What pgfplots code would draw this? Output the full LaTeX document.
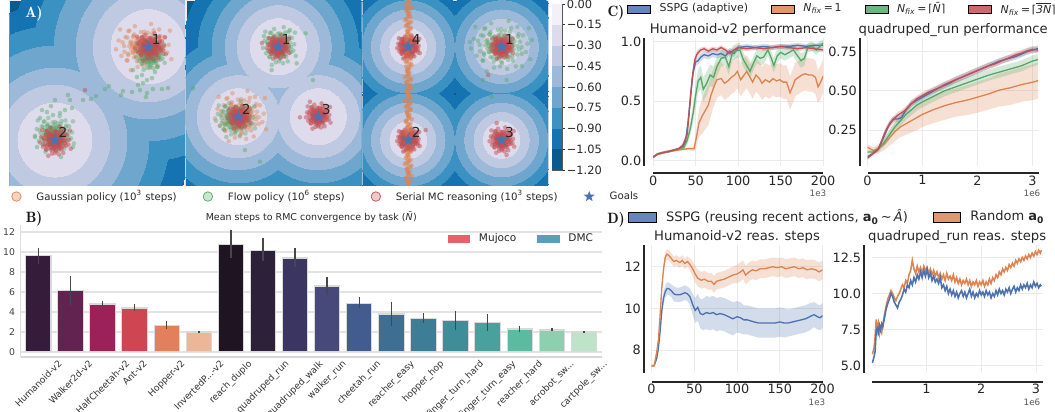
\documentclass[border=0pt]{standalone}
\usepackage{fontspec}
\setmainfont{DejaVu Sans}
\usepackage{graphicx}
\usepackage{pgfplots}
\pgfplotsset{compat=1.18}
\usepackage{pgfplotstable}

\definecolor{C1}{HTML}{F4F0F7}
\definecolor{C2}{HTML}{DDDBEC}
\definecolor{C3}{HTML}{C0C9E2}
\definecolor{C4}{HTML}{9DB9D9}
\definecolor{C5}{HTML}{6EA6CE}
\definecolor{C6}{HTML}{3B91C1}
\definecolor{C7}{HTML}{1473B0}
\definecolor{C8}{HTML}{0B5A8E}
\definecolor{oS}{HTML}{DD8452}
\definecolor{gS}{HTML}{55A868}
\definecolor{rS}{HTML}{C44E52}
\definecolor{bS}{HTML}{4C72B0}
\definecolor{starB}{HTML}{4C72B0}
\definecolor{mujC}{HTML}{E6616B}
\definecolor{dmcC}{HTML}{5B9EBB}
\definecolor{b0}{HTML}{351C3A}
\definecolor{b1}{HTML}{632350}
\definecolor{b2}{HTML}{9B2158}
\definecolor{b3}{HTML}{CD4652}
\definecolor{b4}{HTML}{E2805E}
\definecolor{b5}{HTML}{ECB699}
\definecolor{b6}{HTML}{1F1421}
\definecolor{b7}{HTML}{2D2139}
\definecolor{b8}{HTML}{3B3562}
\definecolor{b9}{HTML}{48497B}
\definecolor{b10}{HTML}{435C8F}
\definecolor{b11}{HTML}{3E6E92}
\definecolor{b12}{HTML}{3D7D95}
\definecolor{b13}{HTML}{3E8D98}
\definecolor{b14}{HTML}{48A19C}
\definecolor{b15}{HTML}{5BBBA1}
\definecolor{b16}{HTML}{8DCFAE}
\definecolor{b17}{HTML}{BDE3C8}

\pgfdeclareplotmark{fstar}{%
 \pgfpathmoveto{\pgfpointpolar{90}{\pgfplotmarksize}}%
 \pgfpathlineto{\pgfpointpolar{126}{0.4\pgfplotmarksize}}%
 \pgfpathlineto{\pgfpointpolar{162}{\pgfplotmarksize}}%
 \pgfpathlineto{\pgfpointpolar{198}{0.4\pgfplotmarksize}}%
 \pgfpathlineto{\pgfpointpolar{234}{\pgfplotmarksize}}%
 \pgfpathlineto{\pgfpointpolar{270}{0.4\pgfplotmarksize}}%
 \pgfpathlineto{\pgfpointpolar{306}{\pgfplotmarksize}}%
 \pgfpathlineto{\pgfpointpolar{342}{0.4\pgfplotmarksize}}%
 \pgfpathlineto{\pgfpointpolar{18}{\pgfplotmarksize}}%
 \pgfpathlineto{\pgfpointpolar{54}{0.4\pgfplotmarksize}}%
 \pgfpathclose\pgfusepathqfill}

\pgfplotsset{/pgf/number format/assume math mode=true}
\pgfplotsset{
 pA/.style={scale only axis, anchor=south west, y dir=reverse, xtick=\empty, ytick=\empty,
   clip mode=individual, clip marker paths=true,
   axis line style={draw=white!86!gray, line width=0.7pt}, axis background/.style={fill=C8},
   ymin=0, ymax=185.7, height=3.714cm},
 lax/.style={scale only axis, anchor=south west, axis x line*=bottom, axis y line*=left,
   major tick length=0pt, xmajorgrids, ymajorgrids, grid style={draw=black!8, line width=0.5pt},
   tick label style={font=\fontsize{7.3}{8}\selectfont, text=black!85},
   xticklabel style={inner sep=1.2pt}, yticklabel style={inner sep=1.5pt},
   title style={font=\fontsize{7.5}{8}\selectfont, text=black!85, at={(0.5,1)}, anchor=base, yshift=-3.44pt},
   x axis line style={draw=black!85, line width=1.1pt},
   y axis line style={draw=black!85, line width=0.8pt}},
 hax/.style={scale only axis, anchor=south west, hide axis},
 cLg/.style={at={(13.066cm,4.92cm)}, width=3.4cm, height=2.56cm, xmin=0, xmax=200, ymin=-0.045, ymax=1.03},
 cRg/.style={at={(17.354cm,4.92cm)}, width=3.426cm, height=2.56cm, xmin=0, xmax=3.115, ymin=0.02, ymax=0.837},
 dLg/.style={at={(13.034cm,0.78cm)}, width=3.42cm, height=2.56cm, xmin=0, xmax=200, ymin=6.9, ymax=13.04},
 dRg/.style={at={(17.44cm,0.78cm)}, width=3.414cm, height=2.56cm, xmin=0, xmax=3.12, ymin=4.49, ymax=13.36},
 bb/.style={ybar, bar width=0.79, bar shift=0pt, fill=#1, draw=white!85!black, line width=0.6pt, forget plot,
   error bars/.cd, y dir=both, y explicit, error mark=none, error bar style={draw=black!72, line width=0.85pt}},
 sc/.style={only marks, mark=*, mark size=1.3pt, color=#1, forget plot},
}

\newcommand{\ring}[3]{\addplot[only marks, mark=*, mark size=#1, color=#2, forget plot, mark options={line width=0pt}] table[x=x,y=y]{#3};}
% a cloud of scatter points: typed offsets (table \cl) scaled and centred, three layers
\newcommand{\blob}[6]{%
\addplot[sc=#1, mark options={fill opacity=#2, draw opacity=0, line width=0pt}] table[x expr=\thisrow{dx}*#5+#3, y expr=\thisrow{dy}*#6+#4]{\cl};
\addplot[sc=#1, mark options={fill opacity=#2, draw opacity=0, line width=0pt}] table[x expr=\thisrow{dy}*0.72*#5+#3, y expr=-\thisrow{dx}*0.72*#6+#4]{\cl};
\addplot[sc=#1, mark options={fill opacity=#2, draw opacity=0, line width=0pt}] table[x expr=-\thisrow{dy}*0.45*#5+#3, y expr=\thisrow{dx}*0.45*#6+#4]{\cl};}
\newcommand{\pts}[3]{\addplot[sc=#1, mark options={fill opacity=#2, draw opacity=0, line width=0pt}] table[x=x,y=y]{#3};}
\newcommand{\stars}[1]{\addplot[only marks, mark=fstar, mark size=3.9pt, color=starB, forget plot, point meta=explicit symbolic, nodes near coords, every node near coord/.style={anchor=center, xshift=0.16cm, yshift=0.15cm, font=\fontsize{7.8}{8}\selectfont, text=black!85}] table[x=x, y=y, meta=lab]{#1};}
\newcommand{\bandax}[3]{%
\begin{axis}[hax, #1, stack plots=y]
\addplot[draw=none, forget plot] table[x=x, y expr=\thisrow{y}-\thisrow{w}]{#2};
\addplot[draw=none, fill=#3, fill opacity=0.25, forget plot] table[x=x, y expr=2*\thisrow{w}]{#2} \closedcycle;
\end{axis}}
\newcommand{\lin}[3]{\addplot[#2, line width=#3, forget plot] table[x=x, y=y]{#1};}

% ---------------- panel A data ----------------
\pgfplotstableread{
x y lab
148.3 46.7 1
55 140 2
}\gA
\pgfplotstableread{
x y lab
278.3 46.7 1
238.3 116.7 2
318.3 116.7 3
}\gB
\pgfplotstableread{
x y lab
501.7 46.7 1
408.3 140 2
501.7 140 3
408.3 46.7 4
}\gC
\pgfplotstableread{
dx dy
0 0
0.3 0.1
-0.25 0.2
0.1 -0.35
-0.4 -0.15
0.5 -0.2
0.2 0.45
-0.1 0.55
-0.55 0.3
0.6 0.35
-0.35 -0.5
0.35 -0.6
0.05 -0.7
-0.7 -0.05
0.75 0.05
-0.15 -0.2
0.15 0.2
0.45 0.6
-0.6 0.6
-0.8 0.4
0.8 -0.45
-0.5 -0.75
0.6 -0.8
0.0 0.85
-0.2 0.9
0.9 0.25
-0.9 -0.3
0.25 0.95
0.95 -0.1
-0.3 -0.95
0.1 0.05
-0.05 0.3
0.4 -0.05
-0.3 0.0
0.2 -0.15
-0.2 -0.4
0.05 0.65
0.65 -0.5
-0.65 -0.45
0.55 0.85
-1.0 0.1
1.05 0.55
-0.45 1.05
0.3 -1.05
-0.85 -0.8
1.0 -0.75
}\cl
\pgfplotstableread{
x y
168 88
162 89
153 89
147 93
146 97
140 90
138 85
132 92
123 91
121 95
109 86
105 89
96 96
91 99
83 100
72 108
70 100
68 95
55 100
51 106
42 110
47 112
65 110
60 113
35 137
40 118
53 115
147 80
152 78
142 75
155 72
137 77
143 83
157 67
133 70
61 157
73 147
37 147
}\trA
\pgfplotstableread{
x y
85 90
}\orA
\pgfplotstableread{
x y
305.7 33.3
313 80
271.7 70
296.7 63.3
193.3 88.3
245 150
260 161.7
264 36
290 30
}\ogB
\pgfplotstableread{
x y
300 117.3
310 101.7
262 43
}\orB
\pgfplotstableread{
x y
491.7 96.7
483 80
506.7 80
470 42
532 40
522 66
}\ogC
\pgfplotstableread{
x y
488.3 75
425.7 130
506.7 155
496.7 123
}\orC
\pgfplotstableread{
dx y
1 2
-2 5
3 8
-1 11
0 14
2 17
-3 20
1 23
-2 26
2 29
0 32
-1 35
3 38
-2 41
1 44
-3 47
2 50
0 53
-1 56
2 59
-2 62
3 65
1 68
-1 71
0 74
-3 77
2 80
-2 83
1 86
3 89
-1 92
0 95
2 98
-3 101
1 104
-2 107
2 110
-1 113
0 116
3 119
-2 122
1 125
-1 128
2 131
-3 134
0 137
1 140
-2 143
3 146
-1 149
2 152
0 155
-2 158
1 161
-3 164
2 167
-1 170
0 173
3 176
-2 179
1 182
0 185
}\bd

% ---------------- panel C data ----------------
\pgfplotstableread{
x y w
0 0.030 0.01
5 0.055 0.01
10 0.065 0.01
20 0.080 0.01
30 0.100 0.01
35 0.120 0.02
38 0.160 0.03
41 0.320 0.06
44 0.550 0.06
47 0.740 0.05
50 0.830 0.03
53 0.840 0.03
56 0.870 0.03
60 0.890 0.03
65 0.880 0.03
70 0.900 0.03
75 0.890 0.03
80 0.900 0.03
85 0.880 0.03
90 0.920 0.03
95 0.900 0.03
100 0.950 0.02
110 0.960 0.02
120 0.950 0.02
130 0.960 0.02
140 0.950 0.02
150 0.960 0.02
160 0.960 0.02
170 0.970 0.02
180 0.960 0.02
190 0.970 0.02
200 0.970 0.02
}\cLb
\pgfplotstableread{
x y w
0 0.03 0.01
5 0.055 0.01
10 0.065 0.01
20 0.08 0.01
30 0.10 0.01
35 0.13 0.02
40 0.22 0.04
43 0.45 0.05
46 0.70 0.05
49 0.85 0.03
52 0.90 0.03
56 0.93 0.02
60 0.94 0.02
65 0.92 0.02
70 0.94 0.02
75 0.93 0.02
80 0.95 0.02
85 0.93 0.02
90 0.90 0.03
95 0.93 0.02
100 0.95 0.02
110 0.94 0.02
120 0.95 0.02
130 0.94 0.02
140 0.95 0.02
150 0.96 0.02
160 0.95 0.02
170 0.94 0.02
180 0.95 0.02
190 0.94 0.02
200 0.93 0.02
}\cLr
\pgfplotstableread{
x y w
0 0.03 0.01
5 0.055 0.01
10 0.065 0.01
20 0.08 0.01
30 0.10 0.01
36 0.11 0.02
40 0.17 0.04
44 0.28 0.06
47 0.40 0.08
50 0.55 0.1
53 0.67 0.1
56 0.70 0.1
59 0.60 0.1
63 0.65 0.1
67 0.72 0.09
71 0.70 0.09
75 0.79 0.08
80 0.86 0.07
85 0.87 0.07
89 0.79 0.07
93 0.90 0.06
97 0.92 0.06
102 0.93 0.06
106 0.85 0.06
110 0.80 0.06
114 0.75 0.06
118 0.82 0.06
122 0.88 0.06
126 0.86 0.06
130 0.87 0.06
135 0.93 0.05
139 0.86 0.06
142 0.80 0.06
146 0.88 0.06
150 0.91 0.05
155 0.89 0.05
160 0.91 0.05
165 0.93 0.05
170 0.88 0.06
174 0.84 0.06
178 0.86 0.06
182 0.95 0.04
187 0.96 0.04
192 0.93 0.04
196 0.96 0.04
200 0.99 0.03
}\cLgr
\pgfplotstableread{
x y w
0 0.03 0.01
5 0.055 0.01
10 0.065 0.01
20 0.08 0.01
30 0.09 0.01
40 0.10 0.01
48 0.10 0.02
51 0.20 0.08
54 0.32 0.12
58 0.38 0.15
62 0.43 0.16
65 0.47 0.17
68 0.55 0.17
72 0.63 0.16
75 0.68 0.15
80 0.69 0.14
84 0.65 0.14
88 0.67 0.14
92 0.70 0.14
96 0.72 0.14
99 0.75 0.14
103 0.68 0.14
107 0.72 0.14
110 0.75 0.14
114 0.70 0.14
117 0.66 0.14
121 0.72 0.14
125 0.69 0.14
128 0.65 0.14
132 0.68 0.14
137 0.66 0.14
141 0.69 0.14
145 0.67 0.14
149 0.68 0.14
153 0.66 0.14
157 0.66 0.14
161 0.57 0.14
164 0.62 0.14
167 0.68 0.14
171 0.70 0.14
175 0.72 0.14
179 0.73 0.14
183 0.72 0.14
187 0.72 0.14
191 0.70 0.14
194 0.62 0.14
197 0.66 0.14
200 0.71 0.14
}\cLo
\pgfplotstableread{
x y w
0.0 0.08 0.01
0.1 0.10 0.01
0.2 0.13 0.015
0.3 0.21 0.02
0.4 0.29 0.02
0.47 0.32 0.02
0.55 0.32 0.02
0.62 0.33 0.02
0.7 0.38 0.02
0.8 0.42 0.02
0.9 0.44 0.02
1.0 0.46 0.02
1.1 0.48 0.02
1.2 0.50 0.02
1.3 0.52 0.02
1.4 0.535 0.02
1.5 0.55 0.02
1.6 0.57 0.02
1.7 0.585 0.02
1.8 0.60 0.02
1.9 0.615 0.02
2.0 0.63 0.02
2.1 0.645 0.02
2.2 0.66 0.02
2.3 0.675 0.02
2.4 0.69 0.02
2.5 0.70 0.02
2.6 0.71 0.02
2.7 0.72 0.02
2.8 0.735 0.02
2.9 0.75 0.02
3.0 0.76 0.02
3.1 0.77 0.02
}\cRb
\pgfplotstableread{
x y w
0.0 0.07 0.01
0.1 0.10 0.01
0.2 0.13 0.015
0.3 0.22 0.02
0.35 0.26 0.02
0.45 0.31 0.02
0.55 0.345 0.02
0.62 0.36 0.02
0.7 0.38 0.02
0.8 0.42 0.02
0.9 0.45 0.02
1.0 0.47 0.02
1.1 0.49 0.02
1.2 0.505 0.02
1.3 0.52 0.02
1.4 0.54 0.02
1.5 0.555 0.02
1.6 0.57 0.02
1.7 0.585 0.02
1.8 0.60 0.02
1.9 0.615 0.02
2.0 0.63 0.02
2.1 0.645 0.02
2.2 0.66 0.02
2.3 0.67 0.02
2.4 0.685 0.02
2.5 0.70 0.02
2.6 0.715 0.02
2.7 0.73 0.02
2.8 0.74 0.02
2.9 0.755 0.02
3.0 0.765 0.02
3.1 0.76 0.02
}\cRr
\pgfplotstableread{
x y w
0.0 0.11 0.01
0.1 0.11 0.01
0.2 0.13 0.02
0.3 0.17 0.025
0.4 0.22 0.03
0.5 0.27 0.03
0.6 0.31 0.035
0.7 0.35 0.035
0.8 0.38 0.035
0.9 0.41 0.035
1.0 0.43 0.035
1.2 0.465 0.035
1.4 0.50 0.035
1.6 0.525 0.035
1.8 0.55 0.035
2.0 0.575 0.035
2.2 0.60 0.035
2.4 0.62 0.035
2.6 0.64 0.035
2.8 0.66 0.035
3.0 0.69 0.035
3.1 0.70 0.035
}\cRgr
\pgfplotstableread{
x y w
0.0 0.14 0.02
0.05 0.13 0.02
0.1 0.12 0.02
0.2 0.13 0.03
0.3 0.16 0.04
0.4 0.20 0.05
0.5 0.24 0.06
0.6 0.27 0.065
0.7 0.29 0.07
0.8 0.31 0.075
0.9 0.33 0.08
1.0 0.35 0.08
1.2 0.38 0.085
1.4 0.405 0.09
1.6 0.425 0.09
1.8 0.44 0.095
2.0 0.46 0.1
2.2 0.48 0.1
2.4 0.505 0.105
2.6 0.52 0.11
2.8 0.54 0.11
3.0 0.555 0.115
3.1 0.565 0.115
}\cRo

% ---------------- panel D data ----------------
\pgfplotstableread{
x y w
0 7.25 0.05
3 7.25 0.05
6 7.9 0.1
8 8.5 0.15
10 9.7 0.2
12 11.0 0.25
14 11.9 0.25
16 12.45 0.25
18 12.6 0.25
20 12.55 0.25
23 12.4 0.25
26 12.25 0.25
29 12.3 0.25
33 12.2 0.25
36 12.3 0.25
39 12.15 0.25
42 12.25 0.25
45 12.1 0.3
48 11.9 0.35
51 11.65 0.4
54 11.45 0.4
58 11.35 0.4
62 11.4 0.4
66 11.3 0.4
70 11.3 0.4
73 11.15 0.4
76 11.3 0.4
80 11.35 0.4
85 11.4 0.4
90 11.5 0.4
95 11.6 0.4
100 11.65 0.45
104 11.75 0.45
107 11.85 0.45
110 11.6 0.45
114 11.75 0.45
118 11.85 0.45
122 11.8 0.45
127 11.9 0.45
132 11.9 0.45
137 11.95 0.45
142 12.0 0.45
147 11.95 0.45
152 12.0 0.45
157 11.9 0.45
162 11.95 0.45
167 12.0 0.45
172 11.9 0.45
177 11.95 0.45
182 11.85 0.45
187 11.9 0.45
192 11.85 0.45
196 11.75 0.45
200 11.85 0.45
}\dLo
\pgfplotstableread{
x y w
0 7.25 0.05
3 7.25 0.05
6 7.6 0.1
8 8.1 0.15
10 8.9 0.2
12 9.9 0.25
14 10.5 0.3
16 10.8 0.3
18 10.95 0.3
20 10.95 0.3
23 10.85 0.3
26 10.7 0.35
29 10.65 0.35
33 10.65 0.35
36 10.7 0.35
39 10.75 0.35
42 10.7 0.35
45 10.55 0.4
48 10.2 0.5
51 9.9 0.6
54 10.05 0.65
57 9.75 0.7
60 9.7 0.75
64 9.8 0.8
68 9.75 0.8
72 9.8 0.8
76 9.7 0.8
80 9.75 0.8
85 9.7 0.8
90 9.6 0.8
95 9.5 0.8
100 9.6 0.75
104 9.55 0.75
108 9.45 0.7
112 9.45 0.7
116 9.4 0.7
120 9.35 0.7
125 9.3 0.7
130 9.3 0.7
135 9.3 0.7
140 9.3 0.7
145 9.3 0.7
150 9.35 0.7
155 9.3 0.7
160 9.3 0.65
165 9.35 0.65
170 9.4 0.65
175 9.45 0.65
180 9.5 0.65
185 9.6 0.65
190 9.7 0.6
194 9.6 0.6
197 9.55 0.6
200 9.65 0.6
}\dLb
\pgfplotstableread{
x y
0.01 5.2
0.04 5.6
0.06 6.0
0.08 7.4
0.10 7.6
0.12 7.3
0.14 7.8
0.16 7.5
0.18 7.9
0.20 7.7
0.23 8.3
0.26 8.9
0.29 9.3
0.32 9.6
0.35 10.0
0.38 9.8
0.41 9.4
0.44 9.2
0.47 9.0
0.50 9.4
0.53 9.6
0.56 9.9
0.59 10.3
0.62 10.1
0.65 10.6
0.68 10.4
0.71 10.9
0.74 10.6
0.77 11.1
0.80 10.8
0.83 11.3
0.86 11.0
0.89 11.5
0.92 11.1
0.95 11.6
0.98 11.2
1.01 11.7
1.04 11.1
1.07 11.4
1.10 10.9
1.13 11.2
1.16 10.8
1.19 11.0
1.22 10.7
1.25 11.1
1.28 10.4
1.31 10.6
1.34 10.2
1.37 10.5
1.40 10.0
1.43 10.3
1.46 9.9
1.49 10.2
1.52 9.8
1.55 10.1
1.58 9.7
1.61 10.0
1.64 10.2
1.67 9.8
1.70 10.1
1.73 9.7
1.76 10.0
1.79 10.3
1.82 9.8
1.85 10.1
1.88 9.7
1.91 10.0
1.94 9.8
1.97 10.2
2.00 9.9
2.03 10.1
2.06 9.8
2.09 10.2
2.12 9.9
2.15 10.1
2.18 9.7
2.21 10.0
2.24 9.8
2.27 10.2
2.30 9.9
2.33 10.3
2.36 10.0
2.39 10.2
2.42 9.9
2.45 10.3
2.48 10.1
2.51 10.4
2.54 10.0
2.57 10.3
2.60 10.5
2.63 10.1
2.66 10.4
2.69 10.2
2.72 10.6
2.75 10.3
2.78 10.6
2.81 10.4
2.84 10.7
2.87 10.3
2.90 10.6
2.93 10.4
2.96 10.8
2.99 10.5
3.02 10.7
3.05 10.4
3.08 10.6
3.10 10.5
}\dRb
\pgfplotstableread{
x y
0.01 5.8
0.04 6.2
0.06 7.0
0.08 8.2
0.10 7.4
0.12 7.9
0.14 7.2
0.16 7.6
0.18 7.3
0.20 7.8
0.23 8.5
0.26 9.1
0.29 9.6
0.32 9.9
0.35 10.2
0.38 10.0
0.41 9.7
0.44 9.5
0.47 9.8
0.50 10.0
0.53 10.3
0.56 10.6
0.59 10.4
0.62 10.9
0.65 10.7
0.68 11.3
0.71 11.6
0.74 12.3
0.77 11.7
0.80 11.4
0.83 11.9
0.86 11.5
0.89 11.8
0.92 11.4
0.95 11.9
0.98 11.6
1.01 11.8
1.04 11.4
1.07 11.7
1.10 11.3
1.13 11.6
1.16 11.2
1.19 11.5
1.22 11.1
1.25 11.4
1.28 11.0
1.31 11.3
1.34 10.9
1.37 11.4
1.40 11.0
1.43 11.2
1.46 10.9
1.49 11.3
1.52 10.8
1.55 11.1
1.58 10.7
1.61 11.0
1.64 10.6
1.67 10.9
1.70 10.7
1.73 11.0
1.76 10.6
1.79 10.9
1.82 10.5
1.85 10.8
1.88 10.6
1.91 10.9
1.94 10.5
1.97 10.8
2.00 10.6
2.03 10.9
2.06 10.5
2.09 10.8
2.12 10.6
2.15 11.0
2.18 10.7
2.21 11.1
2.24 10.9
2.27 11.3
2.30 11.1
2.33 11.5
2.36 11.3
2.39 11.7
2.42 11.5
2.45 11.8
2.48 11.6
2.51 12.0
2.54 11.8
2.57 12.1
2.60 11.9
2.63 12.3
2.66 12.1
2.69 12.4
2.72 12.2
2.75 12.5
2.78 12.3
2.81 12.6
2.84 12.4
2.87 12.7
2.90 12.5
2.93 12.8
2.96 12.6
2.99 12.9
3.02 12.7
3.05 13.0
3.08 12.8
3.10 13.0
}\dRo

\begin{document}
\begin{tikzpicture}[x=0.02cm, y=0.02cm]
\path[use as bounding box] (0,0) rectangle (1055,412);

% ================= Panel A, 1 =================
\begin{axis}[pA, at={(0.186cm,4.526cm)}, width=3.514cm, xmin=9.3, xmax=185]
\ring{76.82pt}{C7}{\gA}
\ring{64.87pt}{C6}{\gA}
\ring{53.49pt}{C5}{\gA}
\ring{40.97pt}{C4}{\gA}
\ring{31.30pt}{C3}{\gA}
\ring{21.06pt}{C2}{\gA}
\blob{oS}{0.42}{143}{47}{27}{22}
\blob{gS}{0.42}{150}{55}{14}{14}
\pts{gS}{0.45}{\trA}
\blob{gS}{0.4}{54}{134}{19}{17}
\pts{rS}{0.5}{\orA}
\blob{rS}{0.5}{150}{47}{15}{13}
\blob{rS}{0.5}{55}{141}{15}{14}
\stars{\gA}
\end{axis}

% ================= Panel A, 2 =================
\begin{axis}[pA, at={(3.72cm,4.526cm)}, width=3.514cm, xmin=186, xmax=361.7]
\ring{54.06pt}{C7}{\gB}
\ring{45.52pt}{C6}{\gB}
\ring{37.56pt}{C5}{\gB}
\ring{30.16pt}{C4}{\gB}
\ring{23.33pt}{C3}{\gB}
\ring{15.93pt}{C2}{\gB}
\blob{oS}{0.42}{240}{116}{25}{24}
\blob{gS}{0.42}{279}{46}{16}{18}
\blob{gS}{0.4}{235}{119}{19}{17}
\pts{gS}{0.45}{\ogB}
\blob{rS}{0.5}{278}{47}{11}{11}
\blob{rS}{0.5}{239}{117}{11}{11}
\blob{rS}{0.5}{318}{116}{12}{12}
\pts{rS}{0.5}{\orB}
\stars{\gB}
\end{axis}

% ================= Panel A, 3 =================
\begin{axis}[pA, at={(7.254cm,4.526cm)}, width=3.712cm, xmin=362.7, xmax=548.3]
\ring{36.65pt}{C7}{\gC}
\ring{31.41pt}{C6}{\gC}
\ring{26.18pt}{C5}{\gC}
\ring{20.94pt}{C4}{\gC}
\ring{15.71pt}{C3}{\gC}
\ring{10.41pt}{C2}{\gC}
\blob{rS}{0.5}{408.3}{47}{11}{11}
\blob{rS}{0.5}{408.3}{140}{11}{11}
\addplot[sc=oS, mark options={fill opacity=0.5, draw opacity=0, line width=0pt}] table[x expr=\thisrow{dx}*1.2+408.3, y=y]{\bd};
\addplot[sc=oS, mark options={fill opacity=0.5, draw opacity=0, line width=0pt}] table[x expr=-\thisrow{dx}*0.9+408.8, y expr=\thisrow{y}+1.5]{\bd};
\addplot[sc=oS, mark options={fill opacity=0.5, draw opacity=0, line width=0pt}] table[x expr=\thisrow{dx}*0.5+407.8, y expr=\thisrow{y}-1]{\bd};
\addplot[sc=rS, mark options={fill opacity=0.35, draw opacity=0, line width=0pt}] table[x expr=\thisrow{dx}*9+408.3, y expr=\thisrow{dy}*10+47]{\cl};
\addplot[sc=rS, mark options={fill opacity=0.35, draw opacity=0, line width=0pt}] table[x expr=\thisrow{dx}*9+408.3, y expr=\thisrow{dy}*10+140]{\cl};
\blob{gS}{0.42}{500}{46}{29}{24}
\pts{gS}{0.45}{\ogC}
\blob{rS}{0.5}{501.7}{47}{11}{11}
\blob{rS}{0.5}{501.7}{140}{12}{12}
\pts{rS}{0.5}{\orC}
\stars{\gC}
\end{axis}

% ================= Colorbar =================
\begin{axis}[scale only axis, anchor=south west, at={(11.046cm,4.84cm)}, width=0.2cm, height=3.32cm,
  xmin=0, xmax=1, ymin=-1.2, ymax=0, xtick=\empty,
  ytick={-1.2,-1.05,-0.9,-0.75,-0.6,-0.45,-0.3,-0.15,0},
  yticklabels={−1.20,−1.05,−0.90,−0.75,−0.60,−0.45,−0.30,−0.15,0.00},
  ytick pos=right, yticklabel pos=right, tick align=outside, major tick length=0.05cm,
  tick style={draw=black!80, line width=0.4pt},
  yticklabel style={font=\fontsize{6.5}{7}\selectfont, text=black!85, inner sep=1pt},
  axis line style={draw=black!65, line width=0.4pt}]
\addplot[fill=C1, draw=none, forget plot] coordinates {(0,-0.15)(1,-0.15)(1,0)(0,0)};
\addplot[fill=C2, draw=none, forget plot] coordinates {(0,-0.3)(1,-0.3)(1,-0.15)(0,-0.15)};
\addplot[fill=C3, draw=none, forget plot] coordinates {(0,-0.45)(1,-0.45)(1,-0.3)(0,-0.3)};
\addplot[fill=C4, draw=none, forget plot] coordinates {(0,-0.6)(1,-0.6)(1,-0.45)(0,-0.45)};
\addplot[fill=C5, draw=none, forget plot] coordinates {(0,-0.75)(1,-0.75)(1,-0.6)(0,-0.6)};
\addplot[fill=C6, draw=none, forget plot] coordinates {(0,-0.9)(1,-0.9)(1,-0.75)(0,-0.75)};
\addplot[fill=C7, draw=none, forget plot] coordinates {(0,-1.05)(1,-1.05)(1,-0.9)(0,-0.9)};
\addplot[fill=C8, draw=none, forget plot] coordinates {(0,-1.2)(1,-1.2)(1,-1.05)(0,-1.05)};
\end{axis}

% ================= Panel A legend =================
\begin{axis}[hax, at={(0.22cm,4.29cm)}, width=1cm, height=0.04cm,
  xmin=0, xmax=1, ymin=0, ymax=1, legend columns=4, legend cell align=left,
  legend style={at={(0,0.5)}, anchor=west, draw=none, fill=none, inner sep=0pt,
    font=\fontsize{5.8}{7}\selectfont, text=black!85, nodes={inner sep=0pt},
    /tikz/every odd column/.append style={column sep=8.5pt},
    /tikz/every even column/.append style={column sep=14.9pt}}]
\addplot[draw=none, forget plot] coordinates {(0,0)};
\addlegendimage{legend image code/.code={\fill[oS, fill opacity=0.35] (0,0) circle (2.7pt);}}
\addlegendentry{Gaussian policy (10\textsuperscript{3} steps)}
\addlegendimage{legend image code/.code={\fill[gS, fill opacity=0.3] (0,0) circle (2.7pt);}}
\addlegendentry{Flow policy (10\textsuperscript{6} steps)}
\addlegendimage{legend image code/.code={\fill[rS, fill opacity=0.3] (0,0) circle (2.7pt);}}
\addlegendentry{Serial MC reasoning (10\textsuperscript{3} steps)}
\addlegendimage{legend image code/.code={\path[color=starB, mark size=3.3pt] plot[mark=fstar] coordinates {(0,0)};}}
\addlegendentry{Goals}
\end{axis}

% ================= Panel B =================
\begin{axis}[scale only axis, anchor=south west, at={(0.414cm,1.106cm)}, width=11.626cm, height=2.634cm,
  xmin=-0.55, xmax=17.56, ymin=-0.5, ymax=12.67,
  axis x line*=bottom, axis y line*=left,
  x axis line style={draw=black!16, line width=1.3pt},
  y axis line style={draw=black!13, line width=0.6pt},
  major tick length=0pt,
  xtick={0,...,17},
  xticklabels={\rotatebox{45}{Humanoid-v2},\rotatebox{45}{Walker2d-v2},\rotatebox{45}{HalfCheetah-v2},\rotatebox{45}{Ant-v2},\rotatebox{45}{Hopper-v2},\rotatebox{45}{InvertedP...-v2},\rotatebox{45}{reach\_duplo},\rotatebox{45}{quadruped\_run},\rotatebox{45}{quadruped\_walk},\rotatebox{45}{walker\_run},\rotatebox{45}{cheetah\_run},\rotatebox{45}{reacher\_easy},\rotatebox{45}{hopper\_hop},\rotatebox{45}{finger\_turn\_hard},\rotatebox{45}{finger\_turn\_easy},\rotatebox{45}{reacher\_hard},\rotatebox{45}{acrobot\_sw...},\rotatebox{45}{cartpole\_sw...}},
  xticklabel style={anchor=north, font=\fontsize{5.2}{6}\selectfont, text=black!80, inner sep=1.5pt},
  ytick={0,2,4,6,8,10,12},
  yticklabel style={font=\fontsize{5.3}{6}\selectfont, text=black!75, inner sep=3pt},
  ymajorgrids, grid style={draw=black!11, line width=0.9pt},
  title={Mean steps to RMC convergence by task (\textit{N̄})},
  title style={font=\fontsize{5.4}{6}\selectfont, text=black!85, at={(0.5,1)}, anchor=base, yshift=-3.44pt},
  legend columns=2, legend cell align=left,
  legend style={at={(0.7346,0.895)}, anchor=west, draw=none, fill=none, inner sep=0pt,
    font=\fontsize{6}{7}\selectfont, text=black!85, nodes={inner sep=0pt},
    /tikz/every odd column/.append style={column sep=5pt},
    /tikz/every even column/.append style={column sep=12pt}}]
\addplot[bb=b0] coordinates {(0,9.6) += (0,0.8) -= (0,0.8)};
\addplot[bb=b1] coordinates {(1,6.1) += (0,1.5) -= (0,1.5)};
\addplot[bb=b2] coordinates {(2,4.77) += (0,0.35) -= (0,0.3)};
\addplot[bb=b3] coordinates {(3,4.37) += (0,0.36) -= (0,0.3)};
\addplot[bb=b4] coordinates {(4,2.63) += (0,0.4) -= (0,0.33)};
\addplot[bb=b5] coordinates {(5,1.97) += (0,0.12) -= (0,0.07)};
\addplot[bb=b6] coordinates {(6,10.77) += (0,1.4) -= (0,1.44)};
\addplot[bb=b7] coordinates {(7,10.17) += (0,1.16) -= (0,1.07)};
\addplot[bb=b8] coordinates {(8,9.37) += (0,0.96) -= (0,0.87)};
\addplot[bb=b9] coordinates {(9,6.57) += (0,0.86) -= (0,0.9)};
\addplot[bb=b10] coordinates {(10,4.83) += (0,0.6) -= (0,0.5)};
\addplot[bb=b11] coordinates {(11,3.77) += (0,1.23) -= (0,1.2)};
\addplot[bb=b12] coordinates {(12,3.33) += (0,0.5) -= (0,0.5)};
\addplot[bb=b13] coordinates {(13,3.1) += (0,1.0) -= (0,0.93)};
\addplot[bb=b14] coordinates {(14,2.93) += (0,0.84) -= (0,0.83)};
\addplot[bb=b15] coordinates {(15,2.27) += (0,0.33) -= (0,0.34)};
\addplot[bb=b16] coordinates {(16,2.17) += (0,0.16) -= (0,0.1)};
\addplot[bb=b17] coordinates {(17,1.97) += (0,0.1) -= (0,0.03)};
\addlegendimage{legend image code/.code={\fill[mujC] (0,-0.077cm) rectangle (0.43cm,0.077cm);}}
\addlegendentry{Mujoco}
\addlegendimage{legend image code/.code={\fill[dmcC] (0,-0.077cm) rectangle (0.43cm,0.077cm);}}
\addlegendentry{DMC}
\end{axis}

% ================= Panel C legend =================
\begin{axis}[hax, at={(12.54cm,8.04cm)}, width=1cm, height=0.04cm,
  xmin=0, xmax=1, ymin=0, ymax=1, legend columns=4, legend cell align=left,
  legend image code/.code={\fill[#1] (0,-0.08cm) rectangle (0.46cm,0.08cm);},
  legend style={at={(0,0.5)}, anchor=west, draw=none, fill=none, inner sep=0pt,
    font=\fontsize{6.2}{7}\selectfont, text=black!85, nodes={inner sep=0pt},
    /tikz/every odd column/.append style={column sep=5pt},
    /tikz/every even column/.append style={column sep=13pt}}]
\addplot[draw=none, forget plot] coordinates {(0,0)};
\addlegendimage{fill=bS, fill opacity=0.85}
\addlegendentry{SSPG (adaptive)}
\addlegendimage{fill=oS, fill opacity=0.85}
\addlegendentry{\textit{N}\textsubscript{\textit{fix}}\,=\,1}
\addlegendimage{fill=gS, fill opacity=0.85}
\addlegendentry{\textit{N}\textsubscript{\textit{fix}}\,=\,⌈\textit{N̄}⌉}
\addlegendimage{fill=rS, fill opacity=0.85}
\addlegendentry{\textit{N}\textsubscript{\textit{fix}}\,=\,⌈$\overline{\mbox{\textit{3N}}}$⌉}
\end{axis}

% ================= Panel C left =================
\begin{axis}[lax, cLg,
  xtick={0,50,100,150,200}, ytick={0,0.5,1}, yticklabels={0.0,0.5,1.0},
  x axis line style={yshift=-0.14cm}, y axis line style={xshift=-0.18cm},
  xticklabel style={yshift=-0.14cm}, yticklabel style={xshift=-0.18cm},
  title={Humanoid-v2 performance}]
\addplot[draw=none, forget plot] coordinates {(100,0.5)};
\end{axis}
\bandax{cLg}{\cLb}{bS}
\bandax{cLg}{\cLo}{oS}
\bandax{cLg}{\cLgr}{gS}
\bandax{cLg}{\cLr}{rS}
\begin{axis}[hax, cLg]
\lin{\cLb}{bS}{0.75pt}
\lin{\cLo}{oS}{0.75pt}
\lin{\cLgr}{gS}{0.75pt}
\lin{\cLr}{rS}{0.75pt}
\end{axis}

% ================= Panel C right =================
\begin{axis}[lax, cRg,
  xtick={0,1,2,3}, ytick={0.25,0.5,0.75}, yticklabels={0.25,0.50,0.75},
  x axis line style={yshift=-0.14cm}, y axis line style={xshift=-0.154cm},
  xticklabel style={yshift=-0.14cm}, yticklabel style={xshift=-0.154cm},
  title={quadruped\_run performance}]
\addplot[draw=none, forget plot] coordinates {(1,0.5)};
\end{axis}
\bandax{cRg}{\cRb}{bS}
\bandax{cRg}{\cRo}{oS}
\bandax{cRg}{\cRgr}{gS}
\bandax{cRg}{\cRr}{rS}
\begin{axis}[hax, cRg]
\lin{\cRb}{bS}{0.75pt}
\lin{\cRo}{oS}{0.75pt}
\lin{\cRgr}{gS}{0.75pt}
\lin{\cRr}{rS}{0.75pt}
\end{axis}

% ================= Panel D legend =================
\begin{axis}[hax, at={(12.56cm,3.88cm)}, width=1cm, height=0.04cm,
  xmin=0, xmax=1, ymin=0, ymax=1, legend columns=2, legend cell align=left,
  legend image code/.code={\fill[#1] (0,-0.1cm) rectangle (0.55cm,0.1cm);},
  legend style={at={(0,0.5)}, anchor=west, draw=none, fill=none, inner sep=0pt,
    font=\fontsize{7.4}{8}\selectfont, text=black!85, nodes={inner sep=0pt},
    /tikz/every odd column/.append style={column sep=5.5pt},
    /tikz/every even column/.append style={column sep=14pt}}]
\addplot[draw=none, forget plot] coordinates {(0,0)};
\addlegendimage{fill=bS, fill opacity=0.85}
\addlegendentry{SSPG (reusing recent actions, \textbf{a\textsubscript{0}}\,∼\,\textit{Â})}
\addlegendimage{fill=oS, fill opacity=0.85}
\addlegendentry{Random \textbf{a\textsubscript{0}}}
\end{axis}

% ================= Panel D left =================
\begin{axis}[lax, dLg,
  xtick={0,50,100,150,200}, ytick={8,10,12},
  x axis line style={yshift=-0.174cm}, y axis line style={xshift=-0.154cm},
  xticklabel style={yshift=-0.174cm}, yticklabel style={xshift=-0.154cm},
  title={Humanoid-v2 reas. steps}]
\addplot[draw=none, forget plot] coordinates {(100,10)};
\end{axis}
\bandax{dLg}{\dLb}{bS}
\bandax{dLg}{\dLo}{oS}
\begin{axis}[hax, dLg]
\lin{\dLb}{bS}{0.75pt}
\lin{\dLo}{oS}{0.75pt}
\end{axis}

% ================= Panel D right =================
\begin{axis}[lax, dRg,
  xtick={1,2,3}, ytick={5,7.5,10,12.5}, yticklabels={5.0,7.5,10.0,12.5},
  x axis line style={yshift=-0.174cm}, y axis line style={xshift=-0.154cm},
  xticklabel style={yshift=-0.174cm}, yticklabel style={xshift=-0.154cm},
  title={quadruped\_run reas. steps}]
\lin{\dRo}{oS}{0.9pt}
\lin{\dRb}{bS}{0.9pt}
\end{axis}

% ================= text labels =================
\node[font=\fontfamily{lmr}\bfseries\fontsize{8.5}{9}\selectfont, text=white] at (34,398.7) {A)};
\node[font=\fontfamily{lmr}\bfseries\fontsize{8.5}{9}\selectfont, text=black!90] at (34,193) {B)};
\node[font=\fontfamily{lmr}\bfseries\fontsize{8.5}{9}\selectfont, text=black!90] at (616,399) {C)};
\node[font=\fontfamily{lmr}\bfseries\fontsize{8.5}{9}\selectfont, text=black!90] at (616,192.5) {D)};
\node[font=\fontsize{5}{6}\selectfont, text=black!65] at (818,219) {1e3};
\node[font=\fontsize{5}{6}\selectfont, text=black!65] at (1032,219) {1e6};
\node[font=\fontsize{5}{6}\selectfont, text=black!65] at (817,10) {1e3};
\node[font=\fontsize{5}{6}\selectfont, text=black!65] at (1032,10) {1e6};
\end{tikzpicture}
\end{document}
